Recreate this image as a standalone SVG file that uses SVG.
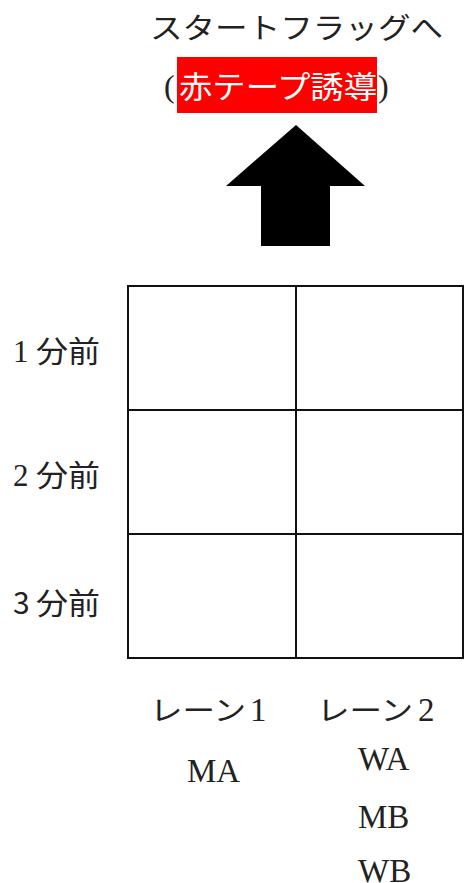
<svg xmlns="http://www.w3.org/2000/svg" width="464" height="883" viewBox="0 0 464 883">
<style>
.jp{font-family:"Noto Sans CJK JP","Noto Sans",sans-serif;fill:#222}
.lat{font-family:"Liberation Serif",serif;fill:#222}
.grid{fill:none;stroke:#111;stroke-width:2}
</style>
<rect width="464" height="883" fill="#fff"/>
<g id="title">
<text class="jp" x="150" y="39" font-size="29" textLength="293" lengthAdjust="spacingAndGlyphs">スタートフラッグへ</text>
</g>
<g id="redtape">
<rect x="177" y="57" width="200" height="56" fill="#ff0000"/>
<text class="lat" x="164" y="97" font-size="32">(</text>
<text class="jp" x="179" y="98" font-size="31" style="fill:#fff" textLength="198" lengthAdjust="spacingAndGlyphs">赤テープ誘導</text>
<text class="lat" x="378" y="97" font-size="32">)</text>
</g>
<g id="arrow">
<polygon points="296,125 365,186 330,186 330,246 261,246 261,186 226,186" fill="#000"/>
</g>
<g id="table">
<rect class="grid" x="128" y="286" width="335" height="372"/>
<line class="grid" x1="296" y1="286" x2="296" y2="658"/>
<line class="grid" x1="128" y1="410" x2="463" y2="410"/>
<line class="grid" x1="128" y1="534" x2="463" y2="534"/>
</g>
<g id="row1">
<text class="lat" x="13" y="362" font-size="31">1</text>
<text class="jp" x="36" y="362" font-size="30" textLength="64" lengthAdjust="spacingAndGlyphs">分前</text>
</g>
<g id="row2">
<text class="lat" x="13" y="486" font-size="31">2</text>
<text class="jp" x="36" y="486" font-size="30" textLength="64" lengthAdjust="spacingAndGlyphs">分前</text>
</g>
<g id="row3">
<text class="jp" x="13" y="614" font-size="30">3</text>
<text class="jp" x="36" y="614" font-size="30" textLength="64" lengthAdjust="spacingAndGlyphs">分前</text>
</g>
<g id="lane1">
<text class="jp" x="150" y="721" font-size="28" textLength="96" lengthAdjust="spacingAndGlyphs">レーン</text>
<text class="lat" x="250" y="721" font-size="33">1</text>
<text class="lat" x="187" y="782" font-size="33">MA</text>
</g>
<g id="lane2">
<text class="jp" x="317" y="721" font-size="28" textLength="96" lengthAdjust="spacingAndGlyphs">レーン</text>
<text class="lat" x="418" y="721" font-size="33">2</text>
<text class="lat" x="358" y="770" font-size="33">WA</text>
<text class="lat" x="358" y="828" font-size="33">MB</text>
<text class="lat" x="358" y="882" font-size="33">WB</text>
</g>
</svg>
